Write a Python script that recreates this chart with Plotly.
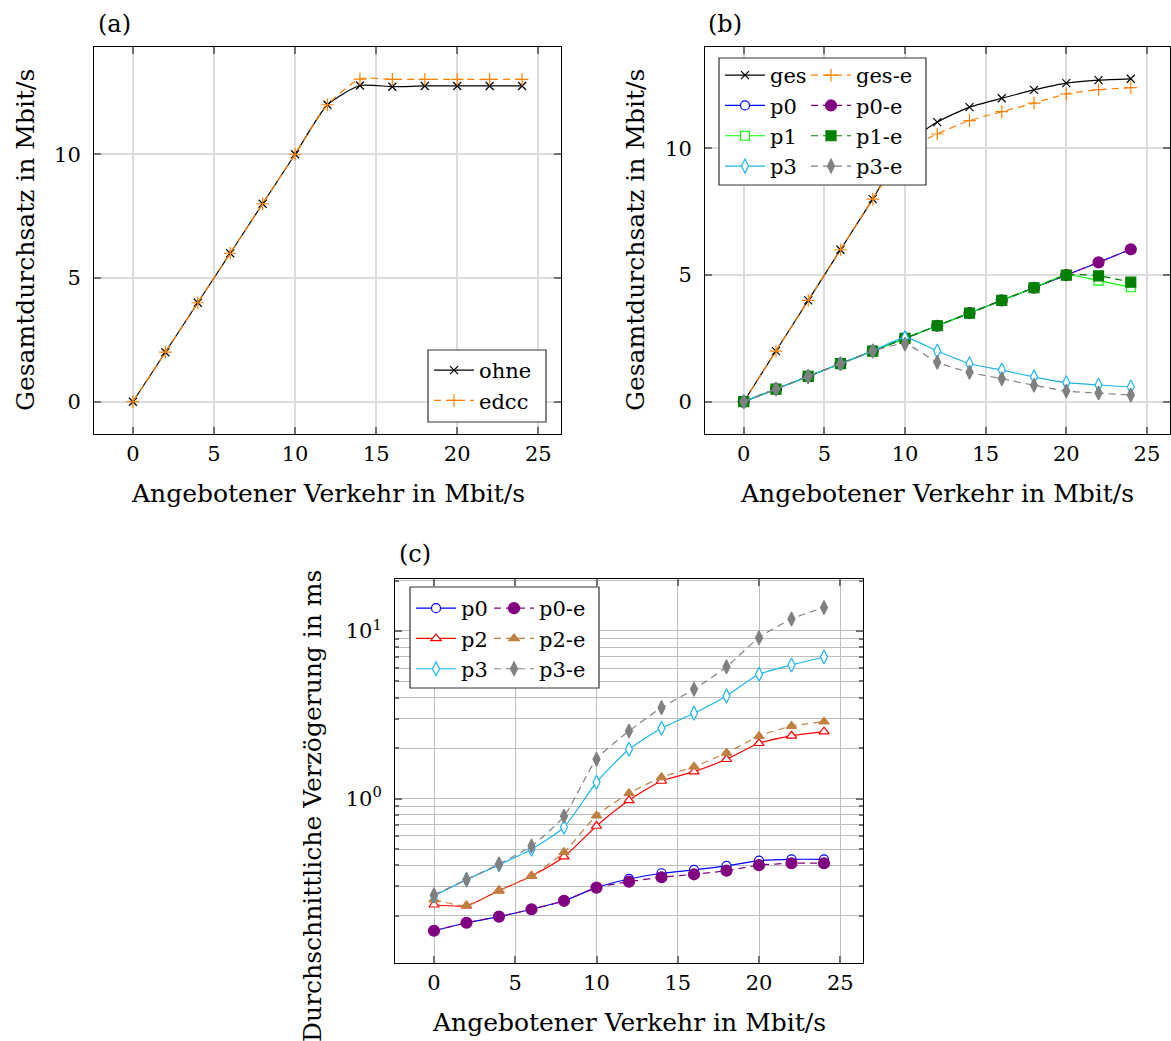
import plotly.graph_objects as go

W, H = 1171, 1041

# offered load (Mbit/s)
load = [0, 2, 4, 6, 8, 10, 12, 14, 16, 18, 20, 22, 24]

# (a) total throughput
thr_ohne = [0, 2, 4, 6, 8, 10, 12, 12.78, 12.73, 12.76, 12.76, 12.76, 12.76]
thr_edcc = [0, 2, 4, 6, 8, 10, 12, 13.04, 13.03, 13.03, 13.03, 13.03, 13.03]

# (b) throughput per priority
ges = [0, 2, 4, 6, 8, 10.1, 11.04, 11.63, 11.98, 12.31, 12.58, 12.70, 12.75]
ges_e = [0, 2, 4, 6, 8, 9.9, 10.57, 11.10, 11.45, 11.79, 12.15, 12.32, 12.40]
thr_p0 = [0, 0.5, 1, 1.5, 2, 2.5, 3, 3.5, 4, 4.5, 5, 5.5, 6.02]
thr_p0_e = [0, 0.5, 1, 1.5, 2, 2.5, 3, 3.5, 4, 4.5, 5, 5.5, 6.02]
thr_p1 = [0, 0.5, 1, 1.5, 2, 2.5, 3, 3.5, 4, 4.5, 5, 4.78, 4.52]
thr_p1_e = [0, 0.5, 1, 1.5, 2, 2.5, 3, 3.5, 4, 4.5, 5, 4.97, 4.72]
thr_p3 = [0, 0.5, 1, 1.5, 2, 2.53, 2.0, 1.5, 1.25, 0.98, 0.75, 0.66, 0.58]
thr_p3_e = [0, 0.5, 1, 1.5, 2, 2.28, 1.56, 1.16, 0.91, 0.65, 0.42, 0.34, 0.26]

# (c) mean delay (ms)
del_p0 = [0.163, 0.182, 0.198, 0.219, 0.246, 0.295, 0.332, 0.359, 0.376, 0.397, 0.427, 0.435, 0.435]
del_p0_e = [0.163, 0.182, 0.198, 0.219, 0.246, 0.295, 0.320, 0.340, 0.354, 0.372, 0.401, 0.412, 0.412]
del_p2 = [0.233, 0.230, 0.283, 0.346, 0.451, 0.687, 0.978, 1.275, 1.449, 1.718, 2.14, 2.37, 2.51]
del_p2_e = [0.25, 0.230, 0.283, 0.346, 0.479, 0.792, 1.077, 1.341, 1.552, 1.873, 2.36, 2.71, 2.88]
del_p3 = [0.263, 0.329, 0.403, 0.499, 0.675, 1.253, 1.97, 2.63, 3.23, 4.10, 5.52, 6.27, 7.0]
del_p3_e = [0.267, 0.329, 0.408, 0.522, 0.785, 1.718, 2.53, 3.49, 4.49, 6.12, 9.12, 11.8, 13.8]

x_ticks = [0, 5, 10, 15, 20, 25]
lin_y_ticks = [0, 5, 10]
log_major = [1, 10]
log_major_text = ["10<sup>0</sup>", "10<sup>1</sup>"]
log_minor = [0.2, 0.3, 0.4, 0.5, 0.6, 0.7, 0.8, 0.9, 2, 3, 4, 5, 6, 7, 8, 9, 20]

FONT = "DejaVu Serif"
ORANGE = "#ff8000"
BLUE = "#0000ff"
VIOLET = "#800080"
GREEN = "#00ff00"
DKGREEN = "#008000"
LBLUE = "#1eb4ec"
GRAY = "#808080"
RED = "#ff0000"
BROWN = "#bf8040"
DASH = "7px,5px"


def fx(px):
    return px / W


def fy(py):
    return 1 - py / H


fig = go.Figure()


def add(x, y, name, color, symbol, size, xa, ya, legend, dash="solid",
        fill=None, mlw=1.2, smooth=True):
    fig.add_trace(go.Scatter(
        x=x, y=y, name=name, mode="lines+markers",
        line=dict(color=color, width=1.2, dash=dash,
                  shape="spline" if smooth else "linear", smoothing=0.6),
        marker=dict(symbol=symbol, size=size,
                    color=fill if fill is not None else color,
                    line=dict(color=color, width=mlw)),
        xaxis=xa, yaxis=ya, legend=legend,
    ))


# panel (a)
add(load, thr_ohne, "ohne", "black", "x-thin-open", 8, "x", "y", "legend")
add(load, thr_edcc, "edcc", ORANGE, "cross-thin-open", 9, "x", "y", "legend", dash=DASH)

# panel (b)
add(load, ges, "ges", "black", "x-thin-open", 8, "x2", "y2", "legend2")
add(load, ges_e, "ges-e", ORANGE, "cross-thin-open", 9, "x2", "y2", "legend3", dash=DASH)
add(load, thr_p0, "p0", BLUE, "circle", 9, "x2", "y2", "legend2", fill="white")
add(load, thr_p0_e, "p0-e", VIOLET, "circle", 11, "x2", "y2", "legend3", dash=DASH)
add(load, thr_p1, "p1", GREEN, "square", 9, "x2", "y2", "legend2", fill="white")
add(load, thr_p1_e, "p1-e", DKGREEN, "square", 10, "x2", "y2", "legend3", dash=DASH)
add(load, thr_p3, "p3", LBLUE, "diamond-tall", 10, "x2", "y2", "legend2", fill="white")
add(load, thr_p3_e, "p3-e", GRAY, "diamond-tall", 10, "x2", "y2", "legend3", dash=DASH)

# panel (c)
add(load, del_p0, "p0", BLUE, "circle", 9, "x3", "y3", "legend4", fill="white")
add(load, del_p0_e, "p0-e", VIOLET, "circle", 11, "x3", "y3", "legend5", dash=DASH)
add(load, del_p2, "p2", RED, "triangle-up", 9, "x3", "y3", "legend4", fill="white")
add(load, del_p2_e, "p2-e", BROWN, "triangle-up", 9, "x3", "y3", "legend5", dash=DASH)
add(load, del_p3, "p3", LBLUE, "diamond-tall", 10, "x3", "y3", "legend4", fill="white")
add(load, del_p3_e, "p3-e", GRAY, "diamond-tall", 10, "x3", "y3", "legend5", dash=DASH)

tick_font = dict(family=FONT, size=21, color="black")
common = dict(
    showline=True, linecolor="black", linewidth=1, mirror="allticks",
    ticks="inside", ticklen=7, tickwidth=1.5, tickcolor="#707070",
    showgrid=True, zeroline=False, tickfont=tick_font,
)
grid_lin = dict(gridcolor="#dcdcdc", gridwidth=1.6)
grid_log = dict(gridcolor="#bdbdbd", gridwidth=1)

dom_a_x = [fx(94), fx(561)]
dom_b_x = [fx(705), fx(1169.5)]
dom_c_x = [fx(395), fx(863)]
dom_ab_y = [fy(434), fy(46.5)]
dom_c_y = [fy(963), fy(579)]

fig.update_layout(
    width=W, height=H,
    margin=dict(l=0, r=0, t=0, b=0),
    paper_bgcolor="white", plot_bgcolor="white",
    font=dict(family=FONT, color="black"),
    xaxis=dict(domain=dom_a_x, anchor="y", range=[-2.4, 26.4], tickvals=x_ticks,
               ticklabelstandoff=1, **common, **grid_lin),
    yaxis=dict(domain=dom_ab_y, anchor="x", range=[-1.305, 14.355], tickvals=lin_y_ticks,
               ticklabelstandoff=8, **common, **grid_lin),
    xaxis2=dict(domain=dom_b_x, anchor="y2", range=[-2.4, 26.4], tickvals=x_ticks,
                ticklabelstandoff=1, **common, **grid_lin),
    yaxis2=dict(domain=dom_ab_y, anchor="x2", range=[-1.275, 14.025], tickvals=lin_y_ticks,
                ticklabelstandoff=8, **common, **grid_lin),
    xaxis3=dict(domain=dom_c_x, anchor="y3", range=[-2.4, 26.4], tickvals=x_ticks,
                ticklabelstandoff=1, **common, **grid_log),
    yaxis3=dict(domain=dom_c_y, anchor="x3", type="log", range=[-0.98, 1.31],
                tickvals=log_major, ticktext=log_major_text, ticklabelstandoff=8,
                minor=dict(tickmode="array", tickvals=log_minor, ticks="inside",
                           ticklen=4, tickcolor="#707070", showgrid=True,
                           gridcolor="#bdbdbd", gridwidth=1),
                **common, **grid_log),
    showlegend=True,
)

leg_common = dict(
    bgcolor="rgba(0,0,0,0)", borderwidth=0, itemwidth=40,
    font=dict(family=FONT, size=21, color="black"),
    xanchor="left", yanchor="top", tracegroupgap=0, itemclick=False,
)
fig.update_layout(
    legend=dict(x=fx(429), y=fy(350), **leg_common),
    legend2=dict(x=fx(720), y=fy(55), **leg_common),
    legend3=dict(x=fx(806), y=fy(55), **leg_common),
    legend4=dict(x=fx(411), y=fy(588), **leg_common),
    legend5=dict(x=fx(489), y=fy(588), **leg_common),
)

# legend frames
for (x0, y0, x1, y1) in [(428, 350, 546, 422), (719, 58, 926, 185), (410, 587, 599, 688)]:
    fig.add_shape(type="rect", xref="paper", yref="paper",
                  x0=fx(x0), x1=fx(x1), y0=fy(y1), y1=fy(y0),
                  line=dict(color="#333333", width=1.2), fillcolor="white", layer="above")

title_font = dict(family=FONT, size=25, color="black")
ann = [
    dict(text="(a)", x=fx(96), y=fy(24), xanchor="left", yanchor="middle", font=dict(family=FONT, size=24)),
    dict(text="(b)", x=fx(706), y=fy(24), xanchor="left", yanchor="middle", font=dict(family=FONT, size=24)),
    dict(text="(c)", x=fx(397), y=fy(554), xanchor="left", yanchor="middle", font=dict(family=FONT, size=24)),
    dict(text="Angebotener Verkehr in Mbit/s", x=fx(327.5), y=fy(493), xanchor="center", yanchor="middle", font=title_font),
    dict(text="Angebotener Verkehr in Mbit/s", x=fx(937), y=fy(493), xanchor="center", yanchor="middle", font=title_font),
    dict(text="Angebotener Verkehr in Mbit/s", x=fx(629), y=fy(1022), xanchor="center", yanchor="middle", font=title_font),
    dict(text="Gesamtdurchsatz in Mbit/s", x=fx(25), y=fy(240), xanchor="center", yanchor="middle", textangle=-90, font=title_font),
    dict(text="Gesamtdurchsatz in Mbit/s", x=fx(635), y=fy(240), xanchor="center", yanchor="middle", textangle=-90, font=title_font),
    dict(text="Durchschnittliche Verzögerung in ms", x=fx(312), y=fy(806), xanchor="center", yanchor="middle", textangle=-90, font=title_font),
]
for a in ann:
    a.update(xref="paper", yref="paper", showarrow=False)
    fig.add_annotation(**a)

fig.write_html("out.html")
